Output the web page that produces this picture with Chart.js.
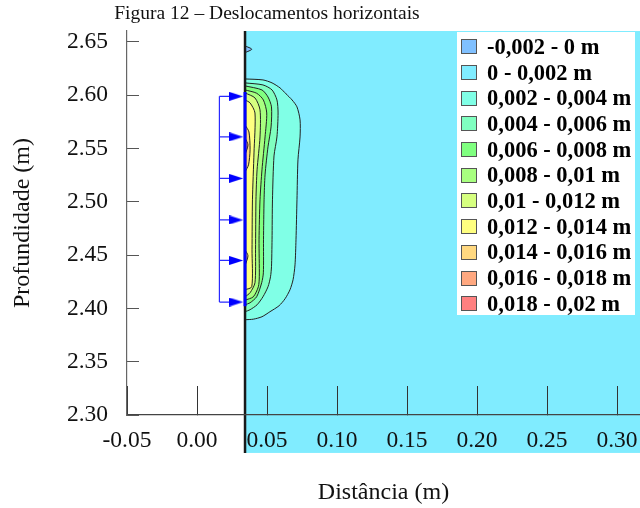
<!DOCTYPE html>
<html lang="pt">
<head>
<meta charset="utf-8">
<title>Figura 12</title>
<script src="https://cdn.jsdelivr.net/npm/chart.js@4.4.1/dist/chart.umd.min.js"></script>
<style>
  body { margin: 0; background: #fff; }
  #wrap { position: relative; width: 640px; height: 508px; overflow: hidden; }
  #chart { position: absolute; left: 0; top: 0; }
  #title { position: absolute; left: 0; top: 2px; width: 534px; text-align: center;
           font: 19.5px 'Liberation Serif', 'Times New Roman', serif; color: #111; }
  #legend { position: absolute; left: 457px; top: 32px; width: 178px; height: 283px;
            background: #fff; padding-top: 2px; box-sizing: border-box; }
  .item { display: flex; align-items: center; height: 25.7px; }
  .sw { width: 16px; height: 15px; border: 1.5px solid #555; box-sizing: border-box;
        margin-left: 4px; margin-right: 10px; flex: none; }
  .lbl { font: bold 22.5px 'Liberation Serif', 'Times New Roman', serif; color: #000; white-space: nowrap; }
</style>
</head>
<body>
<div id="wrap">
  <canvas id="chart" width="640" height="508"></canvas>
  <div id="title">Figura 12 – Deslocamentos horizontais</div>
  <div id="legend"></div>
</div>
<script>
// ---- data (metres) ----
const bandLabels = ['-0,002 - 0 m', '0 - 0,002 m', '0,002 - 0,004 m', '0,004 - 0,006 m',
  '0,006 - 0,008 m', '0,008 - 0,01 m', '0,01 - 0,012 m', '0,012 - 0,014 m',
  '0,014 - 0,016 m', '0,016 - 0,018 m', '0,018 - 0,02 m'];
const bandColors = ['#80c0ff', '#80ecff', '#80ffe6', '#80ffc0', '#80ff80', '#a8ff80',
  '#d6ff80', '#ffff80', '#ffd880', '#ffa880', '#ff8080'];

const xTicks = [-0.05, 0, 0.05, 0.10, 0.15, 0.20, 0.25, 0.30];
const yTicks = [2.30, 2.35, 2.40, 2.45, 2.50, 2.55, 2.60, 2.65];

// soil domain right of the wall
const wallX = 0.0343;
const domainX = [0.0343, 0.3164];
const domainY = [2.2644, 2.6603];

// applied load (arrows)
const arrowY = [2.599, 2.561, 2.522, 2.483, 2.445, 2.406];
const arrowBaseX = 0.016;
const arrowHeadX = 0.028;
const loadY = [2.603, 2.402];

// contour lines [x, y], each closed along the wall
const contourNeg = [[0.0343, 2.6463], [0.0391, 2.6432], [0.0343, 2.6400]];
const contour002 = [[0.0343, 2.6153], [0.0471, 2.6144], [0.0536, 2.6116], [0.0593, 2.6069],
  [0.0636, 2.6013], [0.0679, 2.5956], [0.0714, 2.5891], [0.0736, 2.5769], [0.0736, 2.5609],
  [0.0721, 2.5394], [0.0714, 2.5019], [0.0707, 2.4644], [0.0700, 2.4409], [0.0686, 2.4269],
  [0.0664, 2.4175], [0.0629, 2.4091], [0.0586, 2.4025], [0.0521, 2.3969], [0.0464, 2.3922],
  [0.0402, 2.3899], [0.0343, 2.3894]];
const contour004 = [[0.0343, 2.6116], [0.0471, 2.6097], [0.0536, 2.6050], [0.0571, 2.5956],
  [0.0579, 2.5834], [0.0571, 2.5609], [0.0550, 2.5431], [0.0539, 2.5019], [0.0536, 2.4644],
  [0.0532, 2.4391], [0.0525, 2.4297], [0.0507, 2.4203], [0.0471, 2.4109], [0.0429, 2.4034],
  [0.0379, 2.3988], [0.0343, 2.3969]];
const contour006 = [[0.0343, 2.6088], [0.0464, 2.6050], [0.0507, 2.5984], [0.0532, 2.5891],
  [0.0529, 2.5703], [0.0507, 2.5516], [0.0486, 2.5253], [0.0479, 2.5019], [0.0475, 2.4644],
  [0.0474, 2.4334], [0.0462, 2.4241], [0.0426, 2.4109], [0.0379, 2.4053], [0.0343, 2.4034]];
const contour008 = [[0.0343, 2.6050], [0.0426, 2.6019], [0.0474, 2.5956], [0.0498, 2.5834],
  [0.0486, 2.5609], [0.0464, 2.5300], [0.0450, 2.5019], [0.0443, 2.4644], [0.0445, 2.4297],
  [0.0438, 2.4203], [0.0402, 2.4109], [0.0343, 2.4077]];
const contour010 = [[0.0343, 2.6022], [0.0414, 2.5975], [0.0450, 2.5863], [0.0450, 2.5609],
  [0.0429, 2.5300], [0.0421, 2.5019], [0.0418, 2.4550], [0.0414, 2.4241], [0.0379, 2.4147],
  [0.0343, 2.4109]];
const contour012 = [[0.0343, 2.5956], [0.0379, 2.5928], [0.0414, 2.5834], [0.0407, 2.5459],
  [0.0396, 2.5019], [0.0393, 2.4550], [0.0391, 2.4203], [0.0343, 2.4175]];
const contour014a = [[0.0343, 2.5722], [0.0371, 2.5656], [0.0379, 2.5488], [0.0368, 2.5347],
  [0.0343, 2.5281]];
const contour014b = [[0.0343, 2.4550], [0.0364, 2.4494], [0.0343, 2.4400]];
const contour016 = [[0.0343, 2.5600], [0.0364, 2.5534], [0.0343, 2.5441]];

// ---- legend (html) ----
const legendEl = document.getElementById('legend');
bandLabels.forEach((label, i) => {
  const row = document.createElement('div');
  row.className = 'item';
  row.innerHTML = '<span class="sw" style="background:' + bandColors[i] + '"></span><span class="lbl">' + label + '</span>';
  legendEl.appendChild(row);
});

// ---- helpers ----
const toPts = arr => arr.map(([x, y]) => ({x, y}));

function region(points, band, order) {
  return {
    data: toPts(points),
    fill: 'shape',
    backgroundColor: bandColors[band],
    borderColor: '#222',
    borderWidth: 1,
    pointRadius: 0,
    tension: 0.25,
    order: order
  };
}

// arrow head as a small canvas
const head = document.createElement('canvas');
head.width = 14;
head.height = 9;
const hc = head.getContext('2d');
hc.fillStyle = '#0000ff';
hc.beginPath();
hc.moveTo(0, 0);
hc.lineTo(14, 4.5);
hc.lineTo(0, 9);
hc.closePath();
hc.fill();

const shafts = [];
arrowY.forEach(y => {
  shafts.push({x: arrowBaseX, y}, {x: arrowHeadX, y}, {x: null, y: null});
});
shafts.push({x: arrowBaseX, y: arrowY[0]}, {x: arrowBaseX, y: arrowY[arrowY.length - 1]});

// cyan soil background, also below the x axis like the original
const soilBackground = {
  id: 'soilBackground',
  beforeDatasetsDraw(chart) {
    const {ctx, scales: {x, y}} = chart;
    const l = x.getPixelForValue(domainX[0]);
    const r = x.getPixelForValue(domainX[1]);
    const t = y.getPixelForValue(domainY[1]);
    const b = y.getPixelForValue(domainY[0]);
    ctx.save();
    ctx.fillStyle = bandColors[1];
    ctx.fillRect(l, t, r - l, b - t);
    ctx.restore();
  }
};

const serif = "'Liberation Serif', 'Times New Roman', serif";
const tickFont = {family: serif, size: 23.5};
const titleFont = {family: serif, size: 24};

new Chart(document.getElementById('chart'), {
  type: 'line',
  data: {
    datasets: [
      region(contour002, 2, 20),
      region(contour004, 3, 19),
      region(contour006, 4, 18),
      region(contour008, 5, 17),
      region(contour010, 6, 16),
      region(contour012, 7, 15),
      region(contour014a, 8, 14),
      region(contour014b, 8, 14),
      region(contour016, 9, 13),
      region(contourNeg, 0, 12),
      {
        data: [{x: wallX, y: domainY[0]}, {x: wallX, y: domainY[1]}],
        borderColor: '#1a1a1a', borderWidth: 2.5, pointRadius: 0, clip: false, order: 3
      },
      {
        data: [{x: wallX, y: loadY[0]}, {x: wallX, y: loadY[1]}],
        borderColor: '#0000ff', borderWidth: 3, pointRadius: 0, order: 2
      },
      {
        data: shafts,
        borderColor: '#2a2aff', borderWidth: 1.2, pointRadius: 0, spanGaps: false, order: 1
      },
      {
        data: arrowY.map(y => ({x: arrowHeadX, y})),
        showLine: false, pointStyle: head, pointRadius: 7, order: 0
      }
    ]
  },
  options: {
    responsive: false,
    animation: false,
    events: [],
    layout: {autoPadding: false, padding: {top: 31, left: 0, right: 0, bottom: 0}},
    plugins: {
      legend: {display: false},
      title: {display: false},
      tooltip: {enabled: false}
    },
    scales: {
      x: {
        type: 'linear',
        min: -0.05,
        max: domainX[1],
        afterBuildTicks: s => { s.ticks = xTicks.map(value => ({value})); },
        afterFit: s => {
          s.height = 93;
          s.paddingLeft = 0; s.paddingRight = 0; s.paddingTop = 0; s.paddingBottom = 0;
        },
        grid: {drawOnChartArea: false, drawTicks: true, tickLength: -29, color: '#333', z: 1},
        border: {display: true, color: '#444', width: 1.3, z: 1},
        ticks: {
          z: 1, padding: 41, autoSkip: false, maxRotation: 0, color: '#111', font: tickFont,
          callback: v => v.toFixed(2)
        },
        title: {display: true, text: 'Distância (m)', color: '#111', font: titleFont, padding: {top: 0, bottom: 1}}
      },
      y: {
        type: 'linear',
        min: 2.30,
        max: domainY[1],
        afterBuildTicks: s => { s.ticks = yTicks.map(value => ({value})); },
        afterFit: s => {
          s.width = 127;
          s.paddingLeft = 0; s.paddingRight = 0; s.paddingTop = 0; s.paddingBottom = 0;
        },
        grid: {drawOnChartArea: false, drawTicks: true, tickLength: -12, color: '#555', z: 1},
        border: {display: true, color: '#666', width: 1.2, z: 1},
        ticks: {
          z: 1, padding: 31, autoSkip: false, color: '#111', font: tickFont,
          callback: v => v.toFixed(2)
        },
        title: {display: true, text: 'Profundidade (m)', color: '#111', font: titleFont, padding: {top: 8, bottom: 0}}
      }
    }
  },
  plugins: [soilBackground]
});
</script>
</body>
</html>
